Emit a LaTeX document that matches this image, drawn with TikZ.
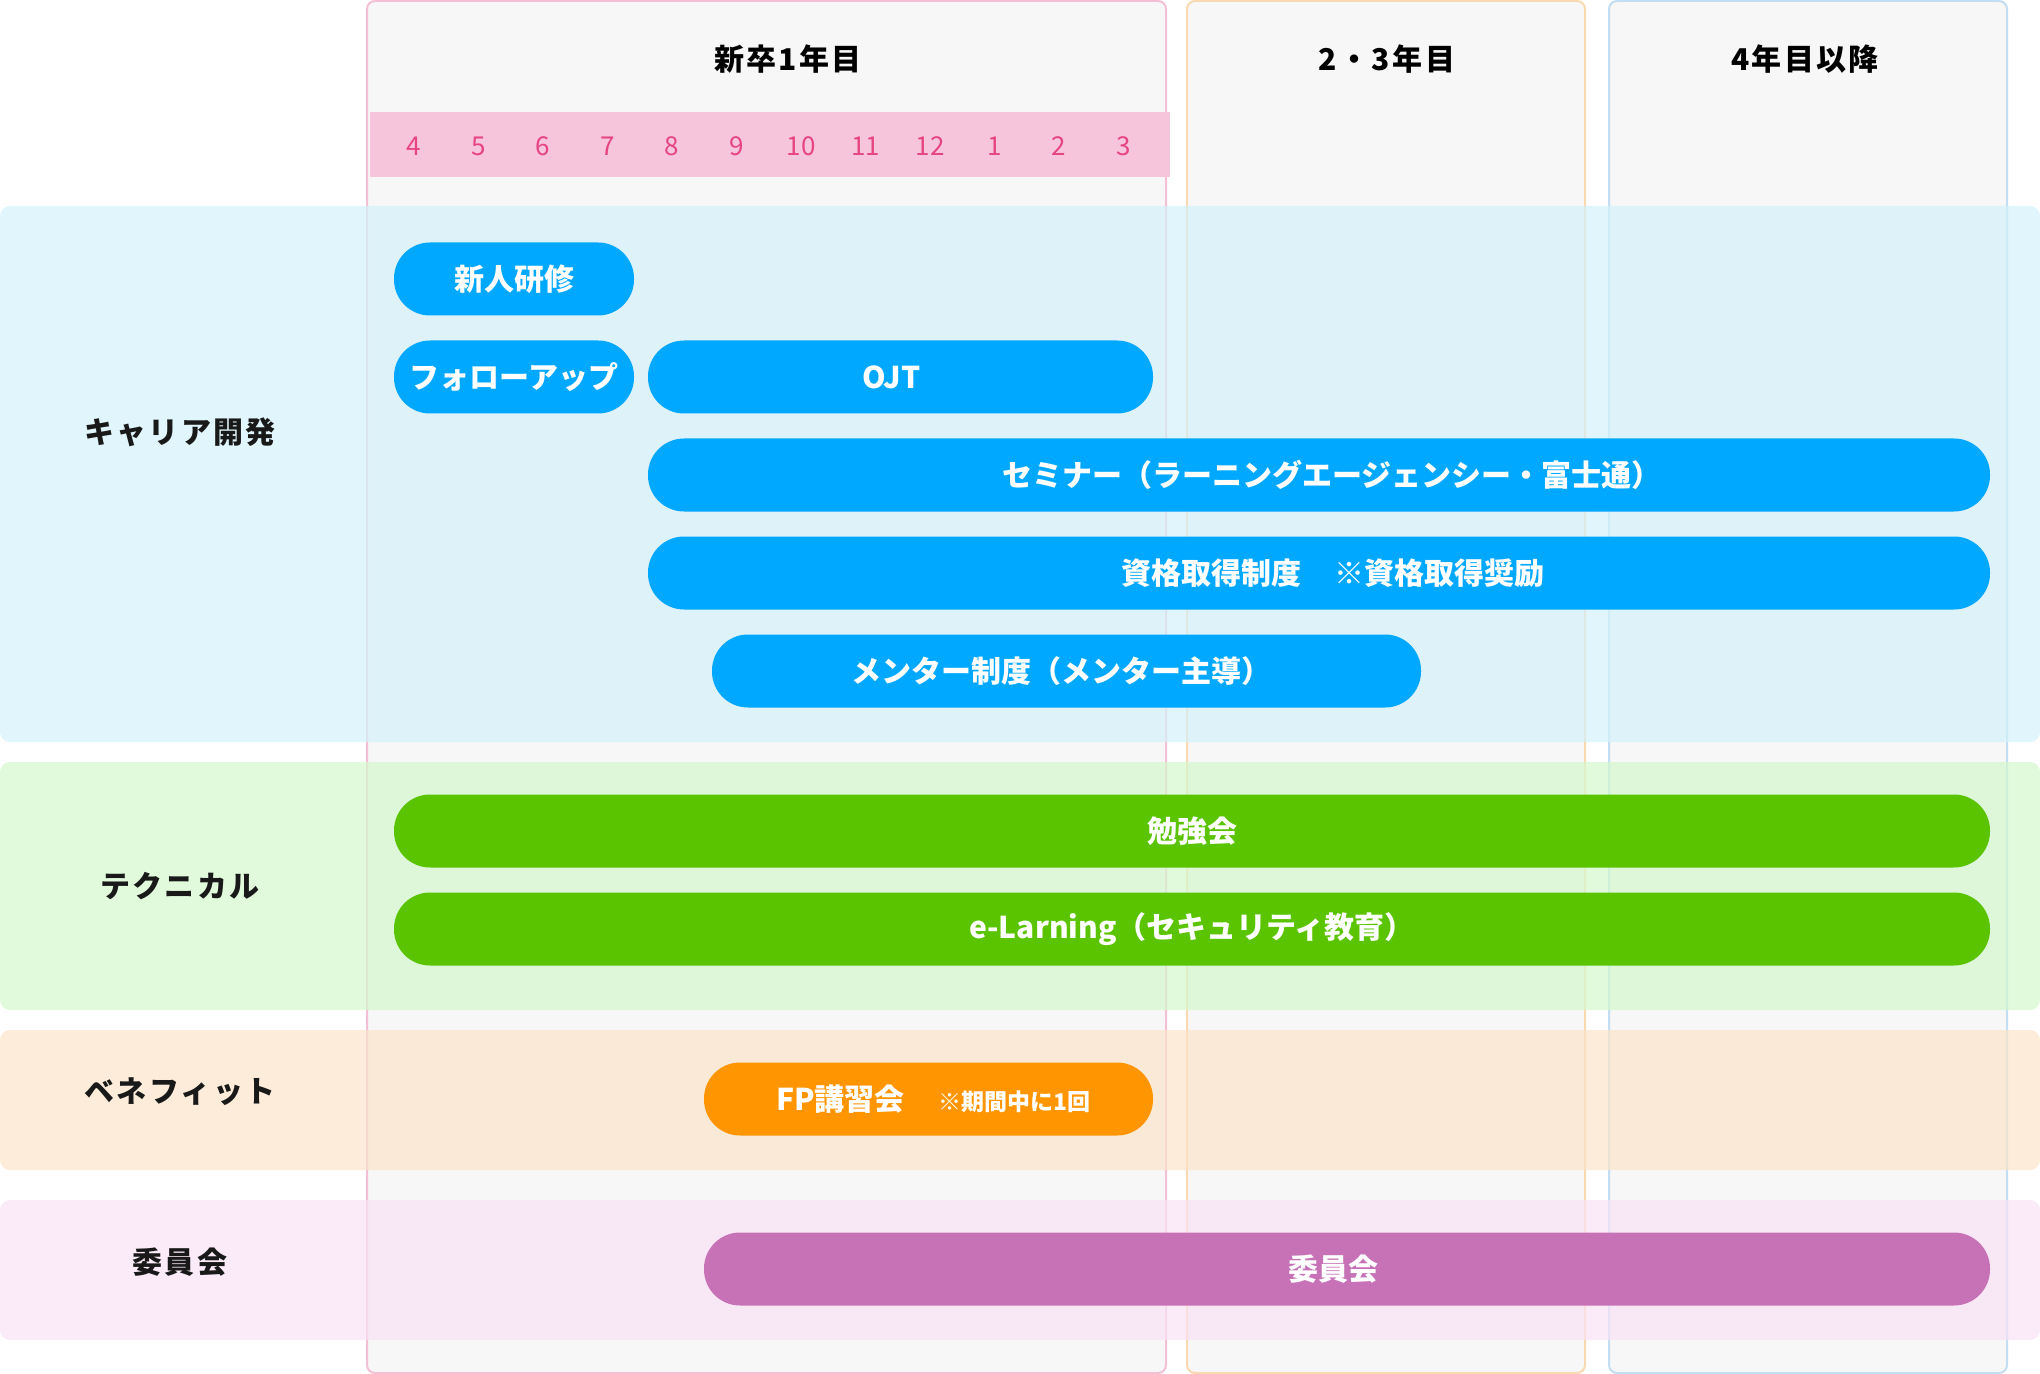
\documentclass[tikz,border=0pt]{standalone}
\usepackage{fontspec}
\setmainfont{Noto Sans CJK JP}
\newfontfamily\spacedfont{Noto Sans CJK JP}[LetterSpace=8]

\definecolor{colgray}{HTML}{F7F7F7}
\definecolor{colpink}{HTML}{F3BFD5}
\definecolor{colorange}{HTML}{F9D9B0}
\definecolor{colblue}{HTML}{C3DEF3}
\definecolor{monthband}{HTML}{F6C4DB}
\definecolor{monthtext}{HTML}{E6457F}
\definecolor{bandblue}{HTML}{D4F1FB}
\definecolor{bandgreen}{HTML}{D4F8CD}
\definecolor{bandorange}{HTML}{FBE4C9}
\definecolor{bandpink}{HTML}{F9E2F5}
\definecolor{barblue}{HTML}{00A8FF}
\definecolor{bargreen}{HTML}{5AC400}
\definecolor{barorange}{HTML}{FF9500}
\definecolor{barpurple}{HTML}{C771B7}

\tikzset{
  yearcol/.style={fill=colgray, line width=1pt, rounded corners=4pt},
  band/.style={fill opacity=0.7, rounded corners=5pt},
  colhead/.style={font=\spacedfont\fontsize{15}{18}\selectfont\bfseries, text=black},
  month/.style={font=\fontsize{13}{16}\selectfont, text=monthtext},
  rowlabel/.style={font=\spacedfont\fontsize{15}{18}\selectfont\bfseries, text=black!90},
  bar/.style={rounded corners=18pt, minimum height=36.5pt, inner sep=0pt,
    text=white, font=\fontsize{15}{18}\selectfont\bfseries}
}

\begin{document}
\begin{tikzpicture}[x=0.5pt, y=-0.5pt]
\useasboundingbox (0,0) rectangle (2040,1374);

\draw[yearcol, draw=colpink] (367,1) rectangle (1166,1373);
\draw[yearcol, draw=colorange] (1187,1) rectangle (1585,1373);
\draw[yearcol, draw=colblue] (1609,1) rectangle (2007,1373);

\fill[monthband] (370,112) rectangle (1170,177);
\foreach \m [count=\i from 0] in {4,5,6,7,8,9,10,11,12,1,2,3}
  \node[month] (m\i) at ({414+64.5*\i},146) {\m};

\node[colhead] (year1) at (788,59) {新卒1年目};
\node[colhead] (year23) at (1387,59) {2・3年目};
\node[colhead] (year4) at (1805,59) {4年目以降};

\fill[band, bandblue] (0,206) rectangle (2040,742);
\fill[band, bandgreen] (0,762) rectangle (2040,1010);
\fill[band, bandorange] (0,1030) rectangle (2040,1170);
\fill[band, bandpink] (0,1200) rectangle (2040,1340);

\node[rowlabel] (career) at (180,432) {キャリア開発};
\node[rowlabel] (tech) at (180,886) {テクニカル};
\node[rowlabel] (benefit) at (180,1092) {ベネフィット};
\node[rowlabel] (comm) at (180,1262) {委員会};

\node[bar, fill=barblue, minimum width=120pt] (shinjin) at (514,279) {新人研修};
\node[bar, fill=barblue, minimum width=120pt] (follow) at (514,377) {フォローアップ};
\node[bar, fill=barblue, minimum width=252.5pt] (ojt) at (900.5,377) {OJT\kern9pt};
\node[bar, fill=barblue, minimum width=671pt] (seminar) at (1319,475) {\hspace{13pt}セミナー（ラーニングエージェンシー・富士通）};
\node[bar, fill=barblue, minimum width=671pt] (shikaku) at (1319,573) {\hspace{14pt}資格取得制度\hspace{16.5pt}※資格取得奨励};
\node[bar, fill=barblue, minimum width=354.5pt] (mentor) at (1066.5,671) {メンター制度（メンター主導）\kern5pt};

\node[bar, fill=bargreen, minimum width=798pt] (benkyo) at (1192,831) {勉強会};
\node[bar, fill=bargreen, minimum width=798pt] (elearn) at (1192,929) {e-Larning（セキュリティ教育）};

\node[bar, fill=barorange, minimum width=224.5pt] (fp) at (928.5,1099) {\hspace{5pt}FP講習会\hspace{17pt}{\fontsize{11.5}{14}\selectfont ※期間中に1回}};

\node[bar, fill=barpurple, minimum width=643pt] (iinkai) at (1347,1269) {委員会\kern14pt};

\end{tikzpicture}
\end{document}
